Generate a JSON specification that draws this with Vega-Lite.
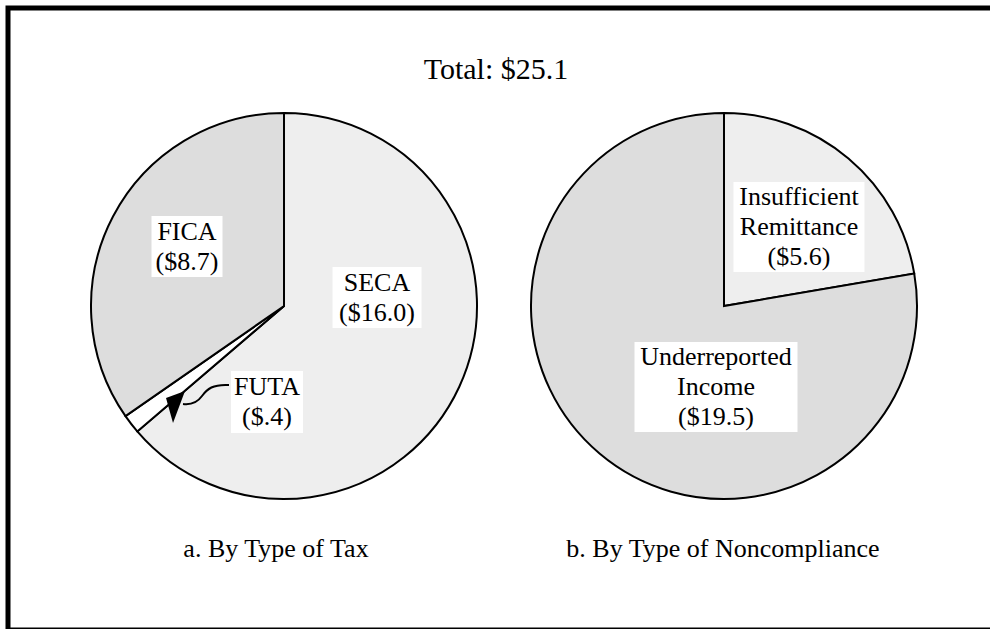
{
  "$schema": "https://vega.github.io/schema/vega-lite/v6.json",
  "width": 992,
  "height": 622,
  "autosize": {"type": "none"},
  "padding": {"left": 8, "top": 8, "right": 0, "bottom": 0},
  "background": "white",
  "config": {
    "view": {"stroke": "black", "strokeWidth": 5},
    "text": {"font": "Liberation Serif", "color": "black"}
  },
  "datasets": {
    "slices": [
      {"panel": "a", "category": "SECA", "value": 16.0, "ord": 1, "label": "SECA\n($16.0)"},
      {"panel": "a", "category": "FUTA", "value": 0.4, "ord": 2, "label": "FUTA\n($.4)"},
      {"panel": "a", "category": "FICA", "value": 8.7, "ord": 3, "label": "FICA\n($8.7)"},
      {"panel": "b", "category": "Insufficient Remittance", "value": 5.6, "ord": 1, "label": "Insufficient\nRemittance\n($5.6)"},
      {"panel": "b", "category": "Underreported Income", "value": 19.5, "ord": 2, "label": "Underreported\nIncome\n($19.5)"}
    ],
    "captions": [
      {"panel": "a", "caption": "a. By Type of Tax"},
      {"panel": "b", "caption": "b. By Type of Noncompliance"}
    ],
    "heading": [{"heading": "Total: $25.1"}]
  },
  "layer": [
    {
      "data": {"name": "slices"},
      "transform": [
        {"stack": "value", "groupby": ["panel"], "sort": [{"field": "ord", "order": "ascending"}], "as": ["v0", "v1"]}
      ],
      "mark": {"type": "arc", "outerRadius": 193, "stroke": "black", "strokeWidth": 2, "yOffset": -13},
      "encoding": {
        "x": {"field": "panel", "type": "nominal", "scale": {"type": "point", "padding": 0.6273}, "axis": null},
        "theta": {"field": "v1", "type": "quantitative", "stack": null, "scale": {"nice": false, "zero": true}},
        "theta2": {"field": "v0"},
        "color": {
          "field": "category",
          "type": "nominal",
          "scale": {
            "domain": ["SECA", "FUTA", "FICA", "Insufficient Remittance", "Underreported Income"],
            "range": ["#eeeeee", "#ffffff", "#dddddd", "#eeeeee", "#dddddd"]
          },
          "legend": null
        }
      }
    },
    {
      "data": {"name": "slices"},
      "transform": [{"filter": "datum.category === 'FUTA'"}],
      "layer": [
        {
          "mark": {"type": "point", "shape": "M-55,79C-71,78 -77,83 -82,90C-87,97 -93,99 -101,98", "size": 4, "filled": false, "color": "black", "strokeWidth": 2, "opacity": 1, "yOffset": -13},
          "encoding": {"x": {"field": "panel", "type": "nominal"}}
        },
        {
          "mark": {"type": "point", "shape": "M-118,92L-99,85L-111,117Z", "size": 4, "filled": true, "color": "black", "opacity": 1, "yOffset": -13},
          "encoding": {"x": {"field": "panel", "type": "nominal"}}
        }
      ]
    },
    {
      "data": {"name": "slices"},
      "transform": [{"filter": "datum.category === 'SECA'"}],
      "layer": [
        {
          "mark": {"type": "point", "shape": "M-44.5,-30.5H44.5V30.5H-44.5Z", "size": 4, "filled": true, "color": "white", "opacity": 1, "xOffset": 93, "yOffset": -21.5},
          "encoding": {"x": {"field": "panel", "type": "nominal"}}
        },
        {
          "mark": {"type": "text", "fontSize": 26, "lineHeight": 30, "lineBreak": "\n", "align": "center", "baseline": "middle", "xOffset": 93, "yOffset": -36.5},
          "encoding": {"x": {"field": "panel", "type": "nominal"}, "text": {"field": "label"}}
        }
      ]
    },
    {
      "data": {"name": "slices"},
      "transform": [{"filter": "datum.category === 'FICA'"}],
      "layer": [
        {
          "mark": {"type": "point", "shape": "M-35.5,-30.5H35.5V30.5H-35.5Z", "size": 4, "filled": true, "color": "white", "opacity": 1, "xOffset": -97, "yOffset": -72.5},
          "encoding": {"x": {"field": "panel", "type": "nominal"}}
        },
        {
          "mark": {"type": "text", "fontSize": 26, "lineHeight": 30, "lineBreak": "\n", "align": "center", "baseline": "middle", "xOffset": -97, "yOffset": -87.5},
          "encoding": {"x": {"field": "panel", "type": "nominal"}, "text": {"field": "label"}}
        }
      ]
    },
    {
      "data": {"name": "slices"},
      "transform": [{"filter": "datum.category === 'FUTA'"}],
      "layer": [
        {
          "mark": {"type": "point", "shape": "M-36,-31H36V31H-36Z", "size": 4, "filled": true, "color": "white", "opacity": 1, "xOffset": -17, "yOffset": 83},
          "encoding": {"x": {"field": "panel", "type": "nominal"}}
        },
        {
          "mark": {"type": "text", "fontSize": 26, "lineHeight": 30, "lineBreak": "\n", "align": "center", "baseline": "middle", "xOffset": -17, "yOffset": 68},
          "encoding": {"x": {"field": "panel", "type": "nominal"}, "text": {"field": "label"}}
        }
      ]
    },
    {
      "data": {"name": "slices"},
      "transform": [{"filter": "datum.category === 'Insufficient Remittance'"}],
      "layer": [
        {
          "mark": {"type": "point", "shape": "M-65.5,-45H65.5V45H-65.5Z", "size": 4, "filled": true, "color": "white", "opacity": 1, "xOffset": 75, "yOffset": -92},
          "encoding": {"x": {"field": "panel", "type": "nominal"}}
        },
        {
          "mark": {"type": "text", "fontSize": 26, "lineHeight": 30, "lineBreak": "\n", "align": "center", "baseline": "middle", "xOffset": 75, "yOffset": -122},
          "encoding": {"x": {"field": "panel", "type": "nominal"}, "text": {"field": "label"}}
        }
      ]
    },
    {
      "data": {"name": "slices"},
      "transform": [{"filter": "datum.category === 'Underreported Income'"}],
      "layer": [
        {
          "mark": {"type": "point", "shape": "M-81.5,-45H81.5V45H-81.5Z", "size": 4, "filled": true, "color": "white", "opacity": 1, "xOffset": -8, "yOffset": 68},
          "encoding": {"x": {"field": "panel", "type": "nominal"}}
        },
        {
          "mark": {"type": "text", "fontSize": 26, "lineHeight": 30, "lineBreak": "\n", "align": "center", "baseline": "middle", "xOffset": -8, "yOffset": 38},
          "encoding": {"x": {"field": "panel", "type": "nominal"}, "text": {"field": "label"}}
        }
      ]
    },
    {
      "data": {"name": "captions"},
      "transform": [{"filter": "datum.panel === 'a'"}],
      "mark": {"type": "text", "fontSize": 26, "align": "center", "baseline": "middle", "xOffset": -8, "yOffset": 230},
      "encoding": {"x": {"field": "panel", "type": "nominal"}, "text": {"field": "caption"}}
    },
    {
      "data": {"name": "captions"},
      "transform": [{"filter": "datum.panel === 'b'"}],
      "mark": {"type": "text", "fontSize": 26, "align": "center", "baseline": "middle", "xOffset": -1, "yOffset": 230},
      "encoding": {"x": {"field": "panel", "type": "nominal"}, "text": {"field": "caption"}}
    },
    {
      "data": {"name": "heading"},
      "mark": {"type": "text", "fontSize": 30, "align": "center", "baseline": "middle", "xOffset": -8, "yOffset": -249},
      "encoding": {"text": {"field": "heading"}}
    }
  ]
}
